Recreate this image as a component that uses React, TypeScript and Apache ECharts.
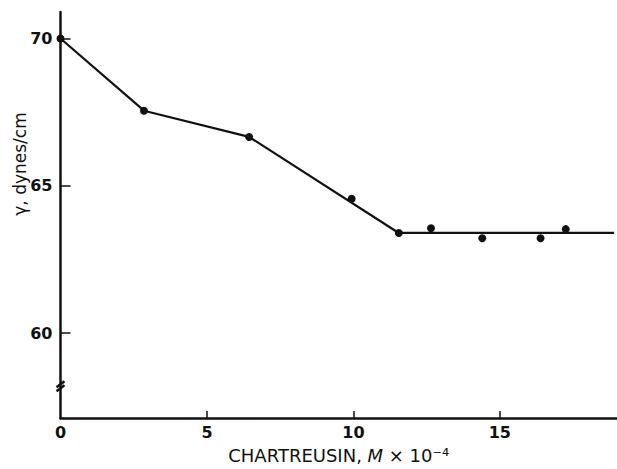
import React, { useEffect, useRef } from "react";
import * as echarts from "echarts";

// Measured points: chartreusin concentration (M × 10^-4) vs surface tension (dynes/cm)
const concentration = [0, 2.85, 6.44, 9.94, 11.55, 12.65, 14.4, 16.39, 17.25];
const tension = [70, 67.55, 66.66, 64.56, 63.4, 63.56, 63.22, 63.22, 63.53];

// Drawn fit line (broken line through the points, flat above the CMC)
const fitX = [0, 2.85, 6.44, 11.55, 18.9];
const fitY = [70, 67.55, 66.66, 63.4, 63.4];

const xTickValues = [5, 10, 15];
const xLabelValues = [0, 5, 10, 15];
const yTickValues = [60, 65, 70];
const axisRange = { xMin: 0, xMax: 19, yMin: 57.12, yMax: 70.9 };
const breakValue = 58.2;

const INK = "#111111";

export default function App() {
  const ref = useRef<HTMLDivElement>(null);

  useEffect(() => {
    if (!ref.current) return;
    const chart = echarts.init(ref.current, null, { renderer: "svg" });
    const points = concentration.map((c, i) => [c, tension[i]]);
    const fit = fitX.map((c, i) => [c, fitY[i]]);

    chart.setOption({
      animation: false,
      backgroundColor: "#ffffff",
      grid: { left: 60.5, right: 0, top: 12, bottom: 45, containLabel: false },
      xAxis: {
        type: "value",
        min: axisRange.xMin,
        max: axisRange.xMax,
        splitLine: { show: false },
        axisLine: { show: true, onZero: false, lineStyle: { color: INK, width: 2.5 } },
        axisTick: {
          show: true,
          inside: true,
          length: 7,
          customValues: xTickValues,
          lineStyle: { color: INK, width: 1.5 },
        },
        axisLabel: {
          customValues: xLabelValues,
          color: INK,
          fontFamily: "DejaVu Sans",
          fontWeight: "bold",
          fontSize: 16,
          margin: 6,
        },
        name: "{n|CHARTREUSIN, }{i|M}{n| × 10⁻⁴}",
        nameLocation: "middle",
        nameGap: 28,
        nameTextStyle: {
          rich: {
            n: { fontFamily: "DejaVu Sans", fontSize: 18, color: INK },
            i: { fontFamily: "DejaVu Sans", fontStyle: "italic", fontSize: 18, color: INK },
          },
        },
      },
      yAxis: {
        type: "value",
        min: axisRange.yMin,
        max: axisRange.yMax,
        splitLine: { show: false },
        axisLine: { show: true, onZero: false, lineStyle: { color: INK, width: 2.5 } },
        axisTick: {
          show: true,
          inside: true,
          length: 10,
          customValues: yTickValues,
          lineStyle: { color: INK, width: 1.5 },
        },
        axisLabel: {
          customValues: yTickValues,
          color: INK,
          fontFamily: "DejaVu Sans",
          fontWeight: "bold",
          fontSize: 16,
          margin: 8,
        },
      },
      series: [
        {
          type: "line",
          data: fit,
          showSymbol: false,
          symbol: "none",
          lineStyle: { color: INK, width: 2.2 },
          silent: true,
          z: 2,
        },
        {
          type: "scatter",
          data: points,
          symbol: "circle",
          symbolSize: 8,
          itemStyle: { color: INK, opacity: 1 },
          z: 3,
        },
      ],
    });

    const [bx, by] = chart.convertToPixel({ xAxisIndex: 0, yAxisIndex: 0 }, [0, breakValue]);
    chart.setOption({
      graphic: [
        {
          type: "text",
          x: 20,
          y: 164,
          rotation: Math.PI / 2,
          style: {
            text: "γ, dynes/cm",
            fontFamily: "DejaVu Sans",
            fontSize: 17,
            fill: INK,
            align: "center",
            verticalAlign: "middle",
          },
        },
        {
          type: "line",
          shape: { x1: bx - 4, y1: by + 1, x2: bx + 4, y2: by - 5 },
          style: { stroke: INK, lineWidth: 2.5 },
          z: 10,
        },
        {
          type: "line",
          shape: { x1: bx - 4, y1: by + 5, x2: bx + 4, y2: by - 1 },
          style: { stroke: INK, lineWidth: 2.5 },
          z: 10,
        },
      ],
    });

    return () => chart.dispose();
  }, []);

  return (
    <div
      ref={ref}
      style={{ position: "absolute", left: 0, top: 0, width: 617, height: 469 }}
    />
  );
}
